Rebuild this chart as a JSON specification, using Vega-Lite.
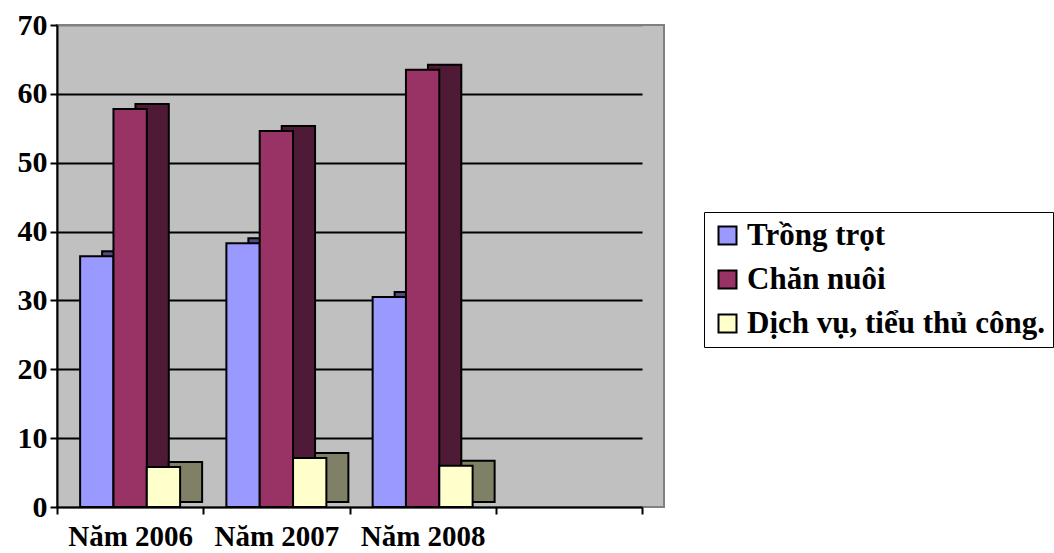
{
  "$schema": "https://vega.github.io/schema/vega-lite/v6.json",
  "autosize": "none",
  "width": 607,
  "height": 482,
  "padding": {"left": 57, "top": 25, "right": 390, "bottom": 46},
  "background": "white",
  "config": {
    "view": {"fill": "#C0C0C0", "stroke": "#808080", "strokeWidth": 2},
    "font": "Liberation Serif"
  },
  "data": {
    "values": [
      {"nam": "Năm 2006", "nganh": "Trồng trọt", "tyle": 36.4},
      {"nam": "Năm 2006", "nganh": "Chăn nuôi", "tyle": 57.8},
      {"nam": "Năm 2006", "nganh": "Dịch vụ, tiểu thủ công.", "tyle": 5.8},
      {"nam": "Năm 2007", "nganh": "Trồng trọt", "tyle": 38.3},
      {"nam": "Năm 2007", "nganh": "Chăn nuôi", "tyle": 54.6},
      {"nam": "Năm 2007", "nganh": "Dịch vụ, tiểu thủ công.", "tyle": 7.1},
      {"nam": "Năm 2008", "nganh": "Trồng trọt", "tyle": 30.5},
      {"nam": "Năm 2008", "nganh": "Chăn nuôi", "tyle": 63.5},
      {"nam": "Năm 2008", "nganh": "Dịch vụ, tiểu thủ công.", "tyle": 6.0}
    ]
  },
  "encoding": {
    "x": {
      "field": "nam",
      "type": "nominal",
      "sort": null,
      "scale": {
        "domain": ["Năm 2006", "Năm 2007", "Năm 2008", " "],
        "range": [0, 585],
        "paddingInner": 0,
        "paddingOuter": 0
      },
      "axis": {
        "title": null,
        "labelAngle": 0,
        "labelFont": "Liberation Serif",
        "labelFontWeight": "bold",
        "labelFontSize": 29,
        "labelColor": "black",
        "labelPadding": 8,
        "labelLimit": 0,
        "tickBand": "extent",
        "tickColor": "black",
        "tickWidth": 2,
        "tickSize": 7,
        "domainColor": "black",
        "domainWidth": 2,
        "grid": false
      }
    },
    "y": {
      "field": "tyle",
      "type": "quantitative",
      "scale": {"domain": [0, 70], "nice": false},
      "axis": {
        "title": null,
        "values": [0, 10, 20, 30, 40, 50, 60, 70],
        "labelFont": "Liberation Serif",
        "labelFontWeight": "bold",
        "labelFontSize": 30,
        "labelColor": "black",
        "labelPadding": 3,
        "tickColor": "black",
        "tickWidth": 2,
        "tickSize": 7,
        "domainColor": "black",
        "domainWidth": 2,
        "grid": true,
        "gridWidth": 2,
        "gridColor": {
          "condition": {"test": "datum.value === 0 || datum.value === 70", "value": "#808080"},
          "value": "black"
        }
      }
    }
  },
  "layer": [
    {
      "mark": {"type": "bar", "yOffset": -5, "stroke": "black", "strokeWidth": 2},
      "encoding": {
        "xOffset": {
          "field": "nganh",
          "type": "nominal",
          "sort": null,
          "scale": {
            "domain": ["Trồng trọt", "Chăn nuôi", "Dịch vụ, tiểu thủ công."],
            "range": [22, 168.25],
            "paddingInner": 0,
            "paddingOuter": 0.694
          }
        },
        "color": {
          "field": "nganh",
          "type": "nominal",
          "scale": {
            "domain": ["Trồng trọt", "Chăn nuôi", "Dịch vụ, tiểu thủ công."],
            "range": ["#4D4D80", "#4F1A35", "#808066"]
          },
          "legend": null
        }
      }
    },
    {
      "mark": {"type": "bar", "stroke": "black", "strokeWidth": 2},
      "encoding": {
        "xOffset": {
          "field": "nganh",
          "type": "nominal",
          "sort": null,
          "scale": {
            "domain": ["Trồng trọt", "Chăn nuôi", "Dịch vụ, tiểu thủ công."],
            "range": [0, 146.25],
            "paddingInner": 0,
            "paddingOuter": 0.694
          }
        },
        "color": {
          "field": "nganh",
          "type": "nominal",
          "scale": {
            "domain": ["Trồng trọt", "Chăn nuôi", "Dịch vụ, tiểu thủ công."],
            "range": ["#9999FF", "#993366", "#FFFFCC"]
          },
          "legend": {
            "title": null,
            "orient": "none",
            "legendX": 647,
            "legendY": 187,
            "fillColor": "white",
            "strokeColor": "black",
            "padding": 8,
            "symbolType": "square",
            "symbolSize": 324,
            "symbolStrokeColor": "black",
            "symbolStrokeWidth": 2,
            "symbolOpacity": 1,
            "labelFont": "Liberation Serif",
            "labelFontWeight": "bold",
            "labelFontSize": 31,
            "labelColor": "black",
            "labelLimit": 0,
            "labelOffset": 4,
            "rowPadding": 12
          }
        }
      }
    }
  ],
  "resolve": {"scale": {"color": "independent", "xOffset": "independent"}}
}
